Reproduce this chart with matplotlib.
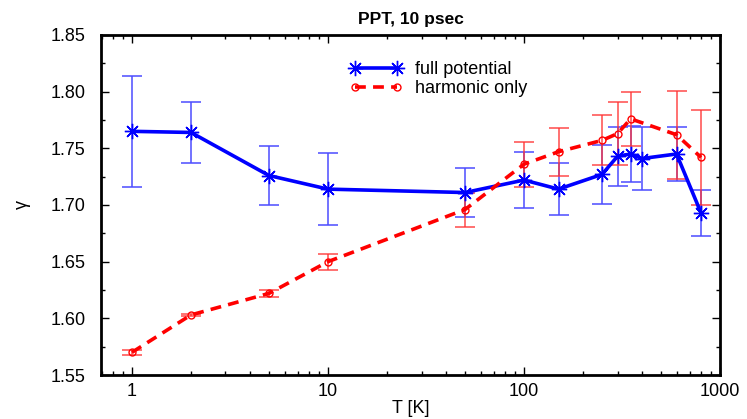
import numpy as np
import matplotlib
matplotlib.use('Agg')
import matplotlib.pyplot as plt
from matplotlib.ticker import MultipleLocator, NullFormatter

plt.rcParams['font.family'] = ['Liberation Sans', 'DejaVu Sans']

# full potential
T_full = [1, 2, 5, 10, 50, 100, 150, 250, 300, 350, 400, 600, 800]
g_full = [1.765, 1.764, 1.726, 1.714, 1.711, 1.722, 1.714, 1.727, 1.743, 1.745, 1.741, 1.745, 1.693]
e_full = [0.049, 0.027, 0.026, 0.032, 0.022, 0.025, 0.023, 0.026, 0.026, 0.025, 0.028, 0.024, 0.020]

# harmonic only
T_harm = [1, 2, 5, 10, 50, 100, 150, 250, 300, 350, 600, 800]
g_harm = [1.570, 1.603, 1.622, 1.650, 1.696, 1.736, 1.747, 1.757, 1.763, 1.776, 1.762, 1.742]
e_harm = [0.002, 0.001, 0.003, 0.007, 0.015, 0.020, 0.021, 0.022, 0.028, 0.024, 0.039, 0.042]

fig = plt.figure(figsize=(7.47, 4.19), dpi=100)
ax = fig.add_axes([0.1352, 0.105, 0.8287, 0.8115])

ax.errorbar(T_full, g_full, yerr=e_full, fmt='none', ecolor=(0.3, 0.3, 1.0, 0.85),
            elinewidth=1.3, capsize=7, capthick=1.3, zorder=2)
ax.errorbar(T_harm, g_harm, yerr=e_harm, fmt='none', ecolor=(1.0, 0.2, 0.2, 0.75),
            elinewidth=1.3, capsize=7, capthick=1.3, zorder=2)

ax.plot(T_full, g_full, color='#0000ff', lw=2.6, marker=(8, 2, 0), ms=11, mew=1.0,
        label='full potential', zorder=3)
ax.plot(T_harm, g_harm, color='#ff0000', lw=2.6, ls=(0, (3, 2)), marker='o', ms=5,
        mfc='none', mew=1.0, label='harmonic only', zorder=3)

ax.set_xscale('log')
ax.set_xlim(0.695, 1000)
ax.set_ylim(1.55, 1.85)
ax.set_xticks([1, 10, 100, 1000])
ax.set_xticklabels(['1', '10', '100', '1000'])
ax.yaxis.set_major_locator(MultipleLocator(0.05))
ax.yaxis.set_minor_locator(MultipleLocator(0.025))
ax.set_yticklabels(['%.2f' % v for v in ax.get_yticks()])
ax.yaxis.set_minor_formatter(NullFormatter())

ax.tick_params(which='both', direction='in', top=True, right=True, labelsize=13)
ax.tick_params(which='major', length=6, width=1)
ax.tick_params(which='minor', length=3, width=1)
ax.tick_params(axis='y', pad=11)
ax.tick_params(axis='x', pad=6)
for s in ax.spines.values():
    s.set_linewidth(2)

ax.set_title('PPT, 10 psec', fontsize=12.5, fontweight='bold', pad=8)
ax.set_xlabel('T [K]', fontsize=13, labelpad=0)
ax.set_ylabel('γ', fontsize=13, labelpad=14)

ax.legend(loc='upper left', bbox_to_anchor=(0.387, 0.95), frameon=False, fontsize=13,
          numpoints=2, handlelength=2.9, handletextpad=0.7, labelspacing=0.1, borderpad=0)

fig.savefig('out.png', dpi=100)
